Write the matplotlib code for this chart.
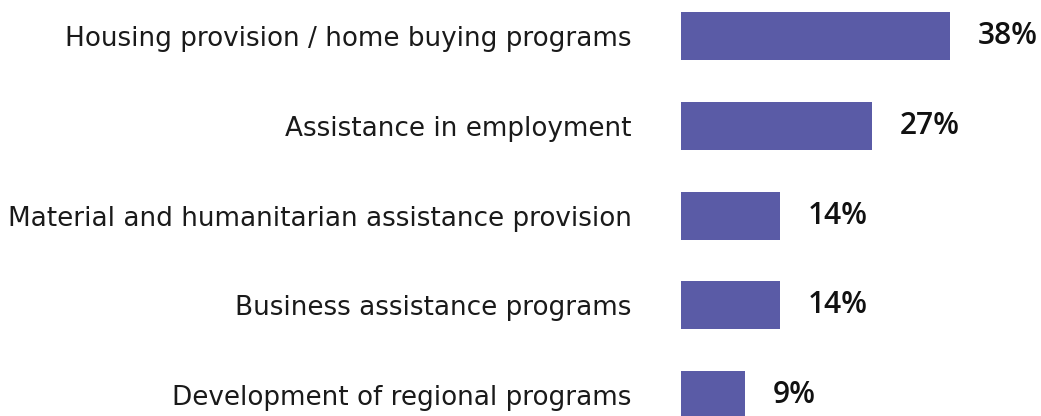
import matplotlib
matplotlib.use("Agg")
import matplotlib.pyplot as plt

categories = [
    "Housing provision / home buying programs",
    "Assistance in employment",
    "Material and humanitarian assistance provision",
    "Business assistance programs",
    "Development of regional programs",
]
values = [38, 27, 14, 14, 9]
value_labels = ["38%", "27%", "14%", "14%", "9%"]

W, H, DPI = 1041, 416, 100
fig = plt.figure(figsize=(W / DPI, H / DPI), dpi=DPI)
fig.patch.set_facecolor("white")

left_px = 681
px_per_unit = 7.09
spacing_px = 89.75
first_center_px = 36

ax = fig.add_axes([left_px / W, 0, 1 - left_px / W, 1])
ax.set_xlim(0, (W - left_px) / px_per_unit)
ax.set_ylim((H - first_center_px) / spacing_px, -first_center_px / spacing_px)

ypos = list(range(len(categories)))
ax.barh(ypos, values, height=48 / spacing_px, color="#5a5ba6", edgecolor="none")

ax.set_yticks(ypos)
ax.set_yticklabels(categories, fontsize=18.9, family=["DejaVu Sans"],
                   color="#1a1a1a")
ax.tick_params(axis="y", length=0, pad=35.5)
ax.set_xticks([])
for s in ax.spines.values():
    s.set_visible(False)

for y, v, lab in zip(ypos, values, value_labels):
    ax.annotate(lab, xy=(v, y), xytext=(20, 0), textcoords="offset points",
                ha="left", va="center", fontsize=21.5, fontweight="semibold",
                family=["Open Sans", "DejaVu Sans"], color="#111111")

fig.savefig("out.png", dpi=DPI, facecolor="white")
